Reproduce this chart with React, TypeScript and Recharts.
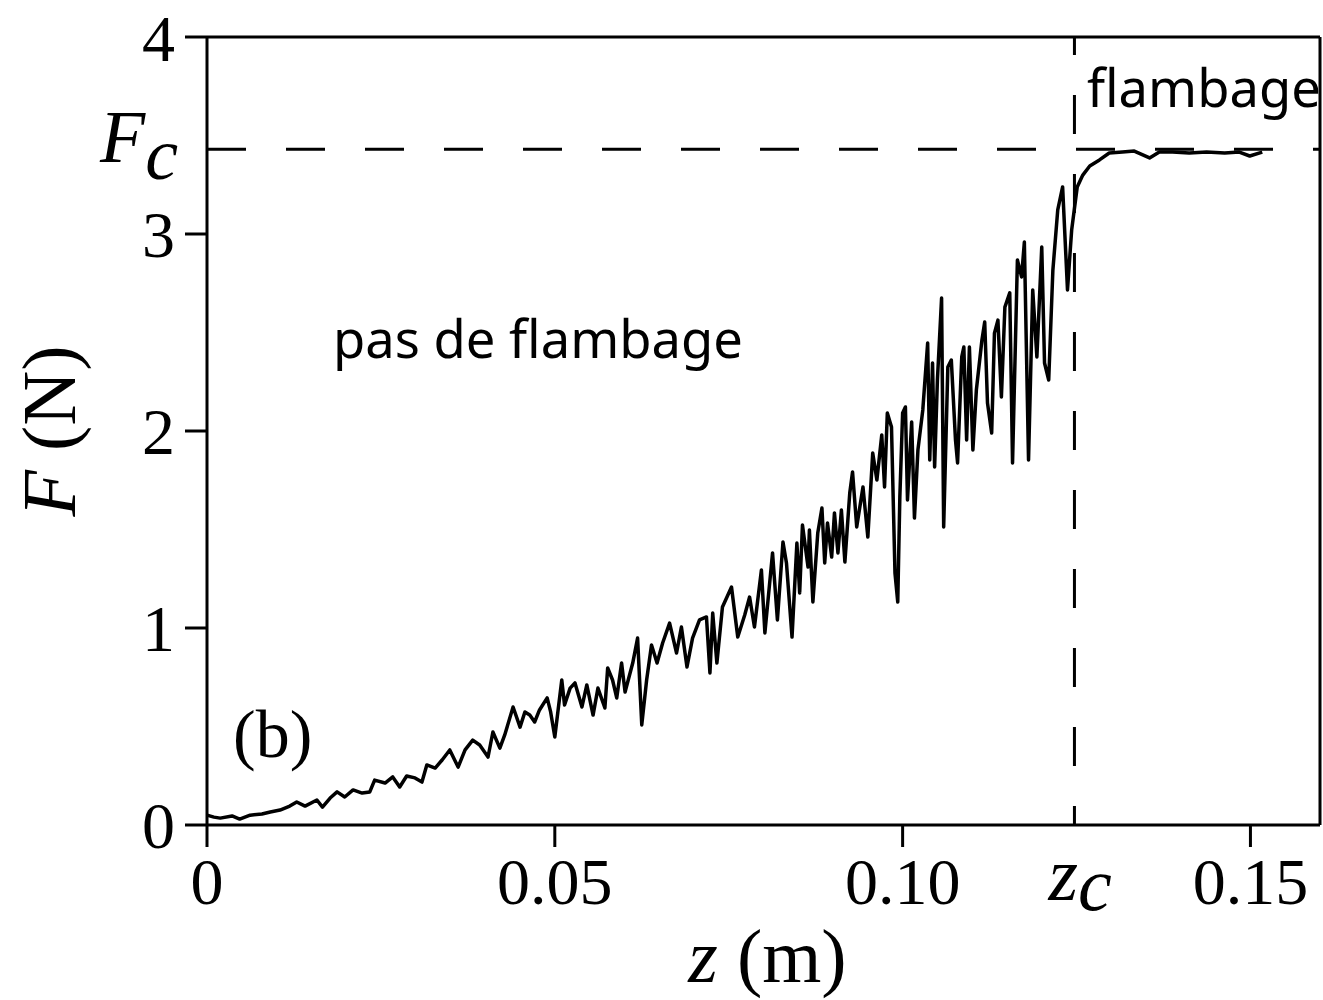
import React from "react";
import { LineChart, Line, XAxis, YAxis, ReferenceLine, Label } from "recharts";

const zValues = [
  0, 0.001, 0.0019, 0.0036, 0.0047, 0.0062, 0.0079, 0.0091, 0.0105, 0.0119,
  0.0129, 0.0141, 0.0158, 0.0166, 0.0177, 0.0187, 0.0198, 0.021, 0.0223, 0.0234,
  0.0241, 0.0256, 0.0267, 0.0277, 0.0287, 0.0299, 0.0309, 0.0316, 0.0328, 0.0338,
  0.0349, 0.0361, 0.0371, 0.0382, 0.0392, 0.0404, 0.0411, 0.0421, 0.0428, 0.044,
  0.045, 0.0457, 0.0464, 0.0471, 0.0478, 0.0489, 0.0494, 0.05, 0.051, 0.0514,
  0.0522, 0.0529, 0.0539, 0.0546, 0.0555, 0.0562, 0.0572, 0.0576, 0.0583, 0.0589,
  0.0596, 0.0601, 0.0612, 0.0619, 0.0625, 0.0632, 0.0639, 0.0647, 0.0655, 0.0665,
  0.0675, 0.0682, 0.069, 0.0698, 0.0708, 0.0718, 0.0723, 0.0727, 0.0733, 0.0741,
  0.0754, 0.0763, 0.0773, 0.078, 0.0787, 0.0797, 0.0802, 0.0813, 0.082, 0.0828,
  0.0833, 0.0841, 0.0848, 0.0852, 0.0856, 0.0864, 0.0866, 0.0871, 0.0878, 0.0884,
  0.0888, 0.0892, 0.0898, 0.0902, 0.0907, 0.0912, 0.0917, 0.0924, 0.0928, 0.0934,
  0.0943, 0.095, 0.0957, 0.0963, 0.097, 0.0974, 0.0978, 0.0984, 0.0989, 0.0993,
  0.0996, 0.1, 0.1004, 0.1007, 0.1013, 0.1017, 0.1022, 0.1029, 0.1036, 0.1039,
  0.1043, 0.1046, 0.105, 0.1056, 0.1059, 0.1065, 0.107, 0.1076, 0.1079, 0.1085,
  0.1088, 0.1092, 0.1096, 0.1101, 0.1106, 0.1114, 0.1118, 0.1122, 0.1128, 0.1132,
  0.1137, 0.1142, 0.1147, 0.1154, 0.1158, 0.1165, 0.1171, 0.1175, 0.1181, 0.1187,
  0.1193, 0.12, 0.1204, 0.121, 0.1216, 0.1223, 0.123, 0.1237, 0.1243, 0.1251,
  0.1259, 0.1269, 0.1283, 0.1297, 0.1316, 0.1333, 0.1355, 0.1369, 0.1388, 0.1412,
  0.1437, 0.1463, 0.1484, 0.1499, 0.1517,
];

// F (N) at each z above
const forceValues = [
  0.05, 0.04, 0.035, 0.046, 0.03, 0.05, 0.056, 0.066, 0.076, 0.096,
  0.117, 0.096, 0.127, 0.091, 0.137, 0.168, 0.142, 0.178, 0.162, 0.168,
  0.228, 0.213, 0.244, 0.193, 0.249, 0.239, 0.218, 0.305, 0.289, 0.33,
  0.381, 0.294, 0.381, 0.431, 0.406, 0.345, 0.472, 0.39, 0.457, 0.599,
  0.497, 0.574, 0.558, 0.523, 0.584, 0.645, 0.574, 0.447, 0.736, 0.609,
  0.695, 0.721, 0.599, 0.711, 0.558, 0.695, 0.594, 0.797, 0.736, 0.645,
  0.822, 0.675, 0.822, 0.949, 0.508, 0.736, 0.914, 0.822, 0.924, 1.025,
  0.873, 1.005, 0.802, 0.949, 1.041, 1.056, 0.772, 1.076, 0.822, 1.107,
  1.208, 0.954, 1.066, 1.157, 1.005, 1.294, 0.975, 1.381, 1.041, 1.437,
  1.33, 0.954, 1.431, 1.178, 1.523, 1.31, 1.497, 1.132, 1.482, 1.609,
  1.33, 1.533, 1.36, 1.584, 1.381, 1.599, 1.335, 1.685, 1.792, 1.513,
  1.716, 1.462, 1.888, 1.751, 1.98, 1.716, 2.091, 2.02, 1.279, 1.132,
  1.665, 2.091, 2.122, 1.65, 2.046, 1.558, 1.904, 2.107, 2.447, 1.853,
  2.345, 1.817, 2.259, 2.675, 1.513, 2.325, 2.36, 1.954, 1.838, 2.376,
  2.426, 1.954, 2.426, 1.904, 2.208, 2.462, 2.553, 2.142, 1.99, 2.497,
  2.563, 2.173, 2.629, 2.701, 1.838, 2.868, 2.782, 2.959, 1.853, 2.716,
  2.376, 2.934, 2.345, 2.259, 2.817, 3.122, 3.239, 2.716, 3.02, 3.239,
  3.299, 3.345, 3.376, 3.411, 3.416, 3.421, 3.386, 3.416, 3.416, 3.411,
  3.416, 3.411, 3.416, 3.396, 3.416,
];

const xTicks = [0, 0.05, 0.1, 0.15];
const yTicks = [0, 1, 2, 3, 4];
const F_CRIT = 3.43;
const Z_CRIT = 0.1247;

const data = zValues.map((z, i) => ({ z, F: forceValues[i] }));

const SERIF = '"Liberation Serif", "Times New Roman", serif';
const SANS = '"Noto Sans", sans-serif';

const fmtZ = (v: number) => (v === 0 ? "0" : v.toFixed(2));

export default function App() {
  return (
    <div style={{ position: "absolute", left: 0, top: 0, width: 1323, height: 1000, background: "#fff" }}>
      <LineChart
        width={1323}
        height={1000}
        data={data}
        margin={{ top: 37, right: 3, bottom: 0, left: 0 }}
      >
        <XAxis
          type="number"
          dataKey="z"
          domain={[0, 0.16]}
          ticks={xTicks}
          tickFormatter={fmtZ}
          height={175}
          stroke="#000"
          axisLine={{ stroke: "#000", strokeWidth: 3 }}
          tickLine={{ stroke: "#000", strokeWidth: 3 }}
          tickSize={22}
          tickMargin={10}
          tick={{ fill: "#000", fontSize: 66, fontFamily: SERIF }}
        >
          <Label
            content={(props: any) => {
              const vb = props.viewBox;
              return (
                <text
                  x={vb.x + vb.width / 2 + 4}
                  y={vb.y + 157}
                  textAnchor="middle"
                  fontFamily={SERIF}
                  fontSize={76}
                  fill="#000"
                >
                  <tspan fontStyle="italic">z</tspan> (m)
                </text>
              );
            }}
          />
        </XAxis>
        <YAxis
          type="number"
          domain={[0, 4]}
          ticks={yTicks}
          width={207}
          stroke="#000"
          axisLine={{ stroke: "#000", strokeWidth: 3 }}
          tickLine={{ stroke: "#000", strokeWidth: 3 }}
          tickSize={22}
          tickMargin={10}
          tick={{ fill: "#000", fontSize: 66, fontFamily: SERIF }}
        >
          <Label
            content={(props: any) => {
              const vb = props.viewBox;
              const cy = vb.y + vb.height / 2;
              return (
                <text
                  x={75}
                  y={cy}
                  transform={`rotate(-90 75 ${cy})`}
                  textAnchor="middle"
                  fontFamily={SERIF}
                  fontSize={76}
                  fill="#000"
                >
                  <tspan fontStyle="italic">F</tspan> (N)
                </text>
              );
            }}
          />
        </YAxis>
        <ReferenceLine y={4} stroke="#000" strokeWidth={3} />
        <ReferenceLine x={0.16} stroke="#000" strokeWidth={3} />
        <ReferenceLine
          y={F_CRIT}
          stroke="#000"
          strokeWidth={3}
          strokeDasharray="39 40"
          label={(props: any) => {
            const vb = props.viewBox;
            return (
              <text x={vb.x - 107} y={vb.y + 13} fontFamily={SERIF} fontSize={74} fill="#000" fontStyle="italic">
                F<tspan dy={17}>c</tspan>
              </text>
            );
          }}
        />
        <ReferenceLine
          x={Z_CRIT}
          stroke="#000"
          strokeWidth={3}
          strokeDasharray="39 40"
          strokeDashoffset={20}
          label={(props: any) => {
            const vb = props.viewBox;
            return (
              <text x={vb.x - 26} y={vb.y + vb.height + 75} fontFamily={SERIF} fontSize={76} fill="#000" fontStyle="italic">
                z<tspan dy={10}>c</tspan>
              </text>
            );
          }}
        />
        <Line
          type="linear"
          dataKey="F"
          stroke="#000"
          strokeWidth={3.5}
          strokeLinejoin="round"
          dot={false}
          isAnimationActive={false}
        />
      </LineChart>
      <svg
        width={1323}
        height={1000}
        style={{ position: "absolute", left: 0, top: 0, pointerEvents: "none" }}
      >
        <text x={333} y={358} fontFamily={SANS} fontSize={52.5} fill="#000">
          pas de flambage
        </text>
        <text x={1087} y={107} fontFamily={SANS} fontSize={52.5} fill="#000">
          flambage
        </text>
        <text x={233} y={757} fontFamily={SERIF} fontSize={68} fill="#000">
          (b)
        </text>
      </svg>
    </div>
  );
}
